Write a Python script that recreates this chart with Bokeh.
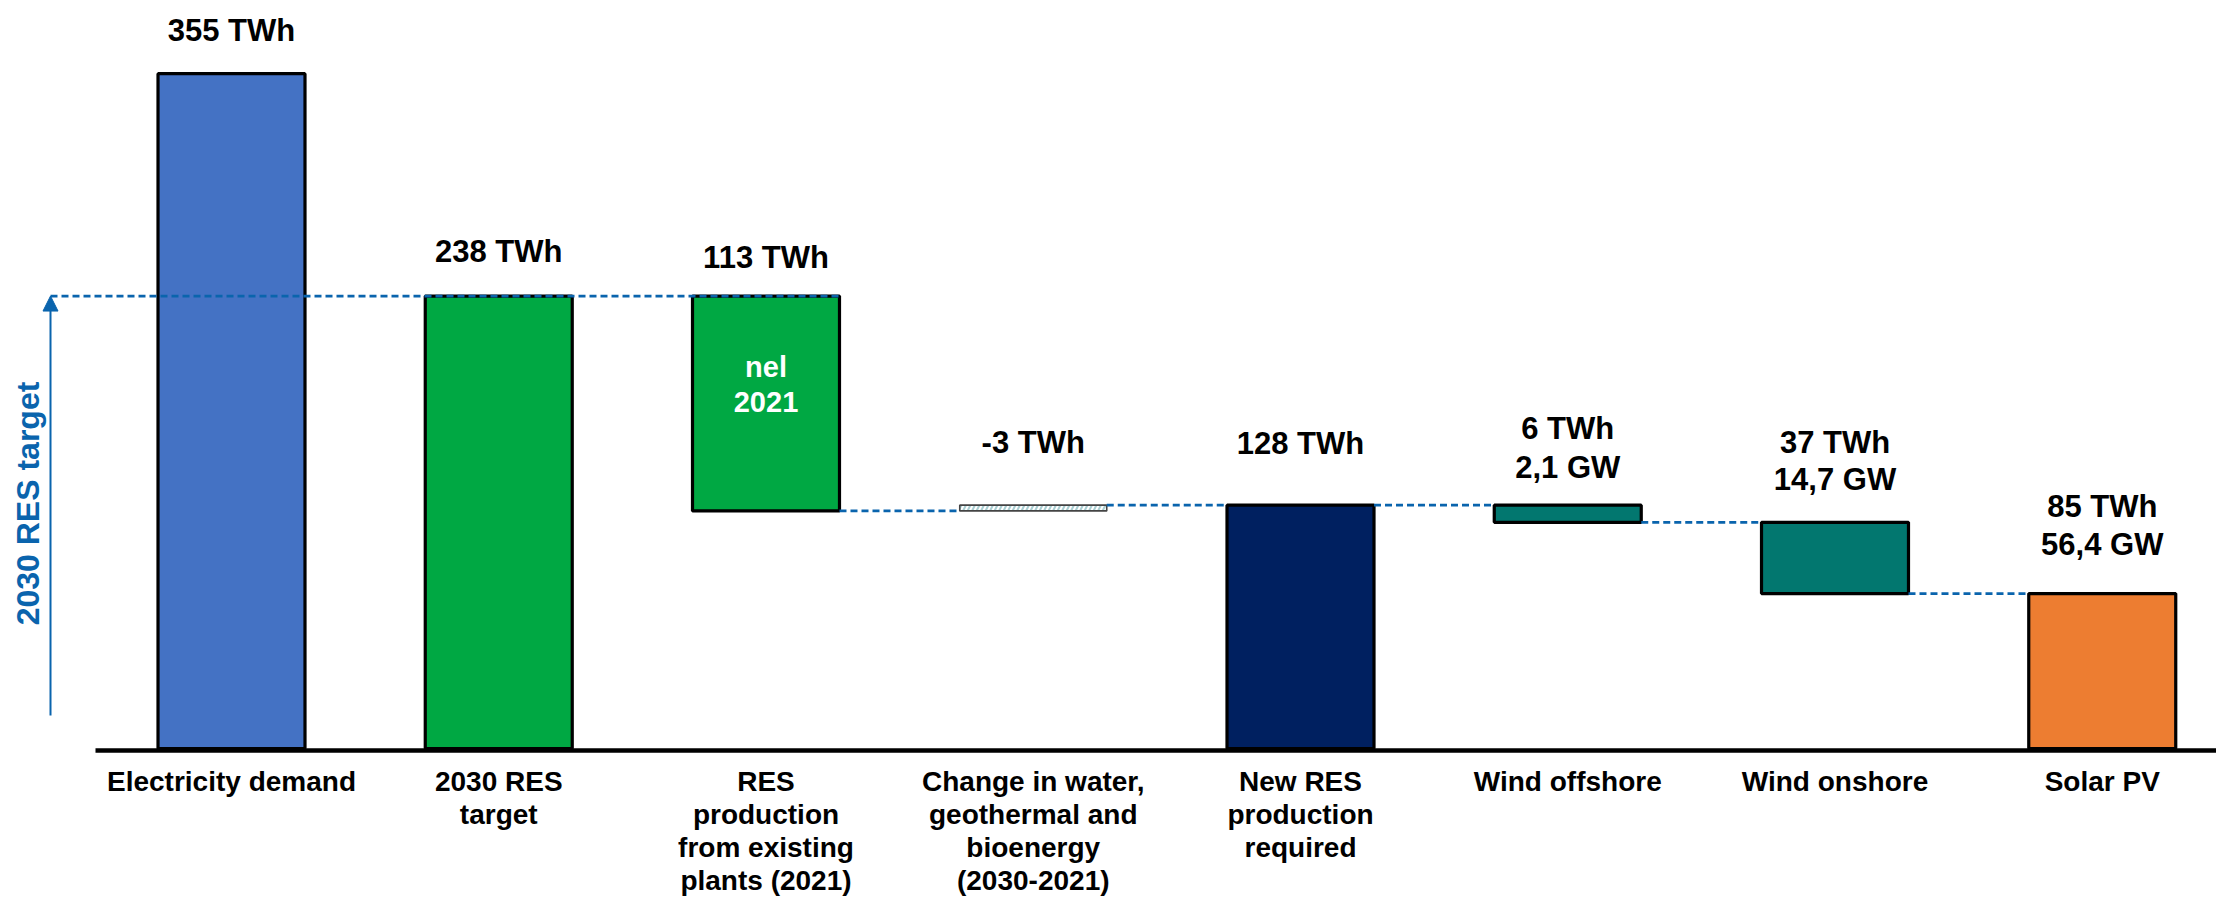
import math
from bokeh.plotting import figure
from bokeh.models import Range1d, Arrow, NormalHead, ColumnDataSource
from bokeh.core.properties import value
from bokeh.embed import file_html
from bokeh.resources import INLINE

# ---------------- data ----------------
categories = [
    "Electricity demand",
    "2030 RES\ntarget",
    "RES\nproduction\nfrom existing\nplants (2021)",
    "Change in water,\ngeothermal and\nbioenergy\n(2030-2021)",
    "New RES\nproduction\nrequired",
    "Wind offshore",
    "Wind onshore",
    "Solar PV",
]
bar_bottom = [0, 0, 125, 125, 0, 119, 81.5, 0]
bar_top = [355, 238, 238, 128, 128, 128, 119, 81.5]
energy_labels = ["355 TWh", "238 TWh", "113 TWh", "-3 TWh", "128 TWh", "6 TWh", "37 TWh", "85 TWh"]
capacity_labels = ["", "", "", "", "", "2,1 GW", "14,7 GW", "56,4 GW"]
target_value = 238
inner_note = ["nel", "2021"]
target_title = "2030 RES target"

# ---------------- styling / layout ----------------
W, H = 2216, 899
PX0, STEP = 231.0, 267.25      # screen x of first bar centre, spacing
BASE_PX, PPU = 748.0, 1.901    # screen y of zero, pixels per TWh
BAR_W = 0.55
FONT = value("Liberation Sans")
bar_colors = ["#4472C4", "#00A843", "#00A843", "#FFFFFF", "#002060", "#02776F", "#02776F", "#ED7D31"]
BLUE = "#0A64AD"
TXT_SHIFT = 10.5               # pixels to lift text baselines
energy_gap_px = [33, 34, 28, 52, 51, 66, 69, 77]
capacity_gap_px = [0, 0, 0, 0, 0, 27, 32, 39]
CAT_FIRST_PX, CAT_LINE_PX = 781, 33
STEP_BAR = 3  # index of the thin hatched bar


def sx(px):
    return (px - PX0) / STEP


def sy(px):
    return (BASE_PX - px) / PPU


p = figure(width=W, height=H,
           x_range=Range1d(sx(0), sx(W)), y_range=Range1d(sy(H), sy(0)),
           output_backend="svg", toolbar_location=None,
           x_axis_location=None, y_axis_location=None,
           min_border=0, outline_line_color=None)
p.grid.visible = False

xs = list(range(len(categories)))
main_idx = [i for i in xs if i != STEP_BAR]
src = ColumnDataSource(dict(
    left=[xs[i] - BAR_W / 2 for i in main_idx],
    right=[xs[i] + BAR_W / 2 for i in main_idx],
    bottom=[bar_bottom[i] for i in main_idx],
    top=[bar_top[i] for i in main_idx],
    color=[bar_colors[i] for i in main_idx],
))
p.quad(left="left", right="right", bottom="bottom", top="top", source=src,
       fill_color="color", line_color="black", line_width=3.2)

i = STEP_BAR
p.quad(left=[xs[i] - BAR_W / 2], right=[xs[i] + BAR_W / 2],
       bottom=[bar_bottom[i]], top=[bar_top[i]],
       fill_color="white", line_color="#444444", line_width=1.6,
       hatch_pattern="right_diagonal_line", hatch_color="#A9CED2",
       hatch_scale=9, hatch_weight=2)

# connectors between consecutive bars
arrow_x = sx(50)
cx0, cx1, cy = [arrow_x], [xs[2] + BAR_W / 2], [target_value]
for k in range(2, len(xs) - 1):
    common = set([bar_bottom[k], bar_top[k]]) & set([bar_bottom[k + 1], bar_top[k + 1]])
    common.discard(0)
    lvl = max(common)
    cx0.append(xs[k] + BAR_W / 2)
    cx1.append(xs[k + 1] - BAR_W / 2)
    cy.append(lvl)
p.segment(x0=cx0, y0=cy, x1=cx1, y1=cy, line_color=BLUE, line_width=2.8, line_dash="7 4")

# baseline
p.segment(x0=[sx(95)], y0=[sy(750)], x1=[sx(W)], y1=[sy(750)], line_color="black", line_width=4.5)

# target arrow
p.add_layout(Arrow(end=NormalHead(size=15, fill_color=BLUE, line_color=BLUE),
                   x_start=arrow_x, y_start=sy(715), x_end=arrow_x, y_end=target_value,
                   line_color=BLUE, line_width=2))
p.text(x=[sx(27)], y=[sy(503)], text=[target_title], angle=math.pi / 2,
       text_font=FONT, text_font_style="bold", text_font_size="32px",
       text_color=BLUE, text_align="center", text_baseline="middle")

# value labels
ex, ey, et = [], [], []
for k in xs:
    ex.append(xs[k]); ey.append(bar_top[k] + (energy_gap_px[k] + TXT_SHIFT) / PPU); et.append(energy_labels[k])
    if capacity_labels[k]:
        ex.append(xs[k]); ey.append(bar_top[k] + (capacity_gap_px[k] + TXT_SHIFT) / PPU); et.append(capacity_labels[k])
p.text(x=ex, y=ey, text=et, text_font=FONT, text_font_style="bold", text_font_size="31px",
       text_color="black", text_align="center", text_baseline="alphabetic")

# note inside the existing-production bar
p.text(x=[xs[2], xs[2]], y=[sy(377 - TXT_SHIFT), sy(412 - TXT_SHIFT)], text=inner_note,
       text_font=FONT, text_font_style="bold", text_font_size="29px",
       text_color="white", text_align="center", text_baseline="alphabetic")

# category labels
lx, ly, lt = [], [], []
for k, cat in enumerate(categories):
    for j, line in enumerate(cat.split("\n")):
        lx.append(xs[k]); ly.append(sy(CAT_FIRST_PX + CAT_LINE_PX * j)); lt.append(line)
p.text(x=lx, y=ly, text=lt, text_font=FONT, text_font_style="bold", text_font_size="28px",
       text_color="black", text_align="center", text_baseline="alphabetic")

open("out.html", "w").write(file_html(p, INLINE))
